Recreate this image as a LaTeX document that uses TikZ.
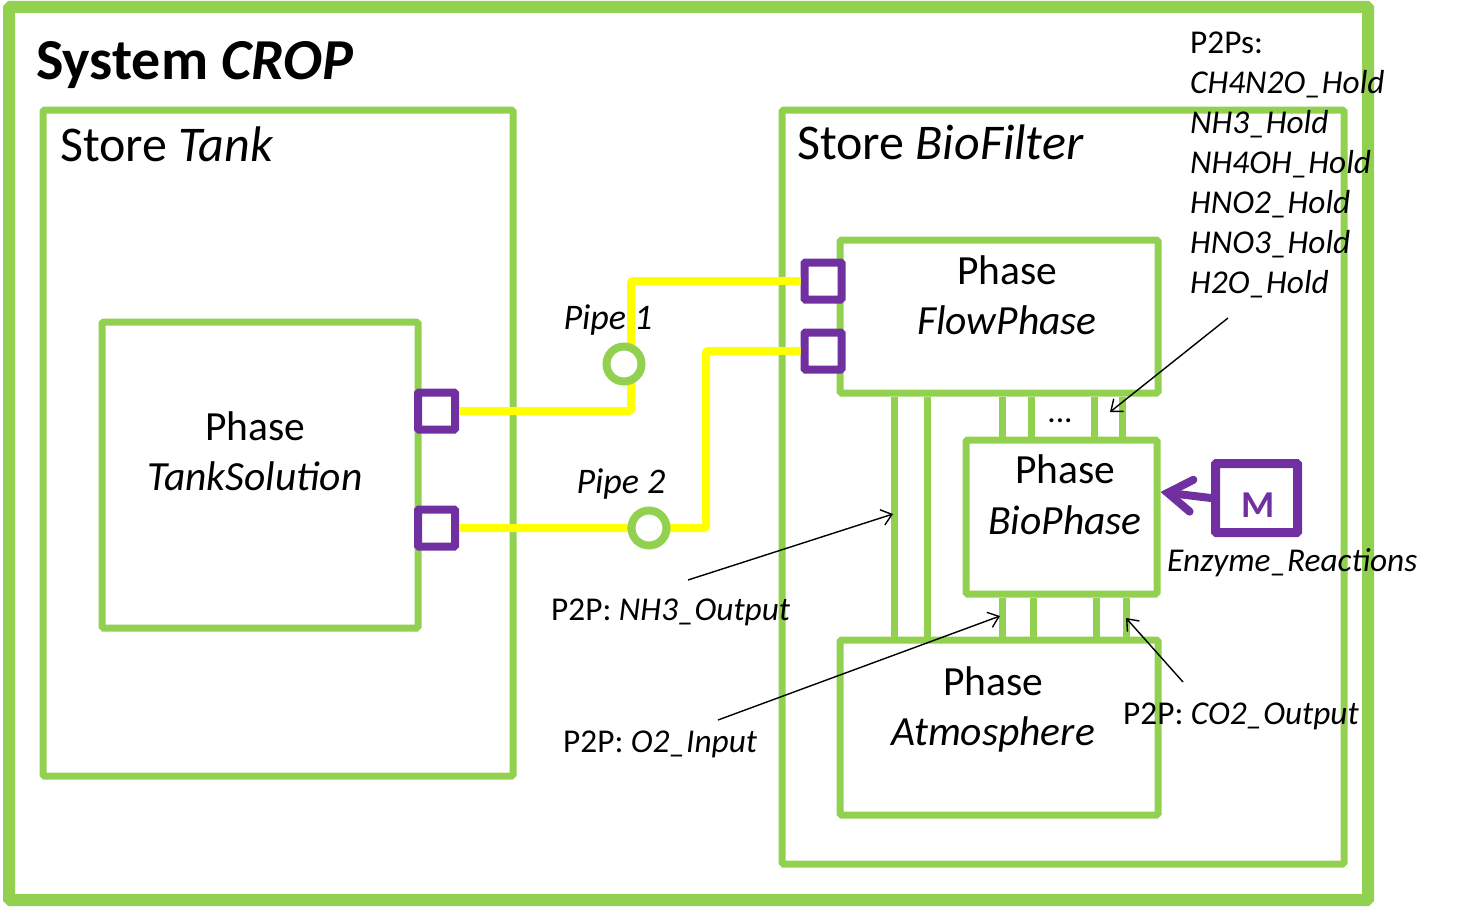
\documentclass[tikz,border=0pt]{standalone}
\usepackage{fontspec}
\setmainfont{Carlito}
\usetikzlibrary{arrows.meta}

\definecolor{boxgreen}{HTML}{92D050}
\definecolor{portpurple}{HTML}{7030A0}
\definecolor{pipeyellow}{HTML}{FFFF00}

\tikzset{
    frame/.style={draw=boxgreen,line width=7pt,rounded corners=1.5pt},
    phasebox/.style={rectangle,draw=boxgreen,fill=white,line width=7pt,rounded corners=1.5pt,inner sep=0pt},
    port/.style={rectangle,draw=portpurple,fill=white,line width=8pt,minimum size=37pt,inner sep=0pt,rounded corners=1pt},
    valve/.style={circle,draw=boxgreen,fill=white,line width=8pt,minimum size=35pt,inner sep=0pt},
    pipe/.style={draw=pipeyellow,line width=8pt,rounded corners=2pt},
    bar/.style={draw=boxgreen,line width=7pt},
    pointer/.style={draw=black,line width=1.4pt,-{Straight Barb[length=10pt,width=16pt]}},
    storetext/.style={font=\fontsize{50}{58}\selectfont,anchor=base west,inner sep=0pt},
    phasetext/.style={font=\fontsize{41.5}{48}\selectfont,anchor=base,inner sep=0pt},
    smalltext/.style={font=\fontsize{33.3}{40}\selectfont,anchor=base west,inner sep=0pt},
    pipetext/.style={font=\itshape\fontsize{36}{40}\selectfont,anchor=base,inner sep=0pt}
}

\begin{document}
\begin{tikzpicture}[x=1pt,y=-1pt]
    \useasboundingbox (0,0) rectangle (1472,907);

    % system and stores
    \draw[frame,line width=12pt] (9,7) rectangle (1368,900);
    \node[font=\bfseries\fontsize{58}{64}\selectfont,anchor=base west,inner sep=0pt] (system) at (36,80) {System \textit{CROP}};
    \draw[frame] (43,110) rectangle (513,776);
    \node[storetext] (tanklbl) at (60,161) {Store \textit{Tank}};
    \draw[frame] (782,110) rectangle (1344,864);
    \node[storetext] (biolbl) at (797,159) {Store \textit{BioFilter}};

    % phases
    \node[phasebox,minimum width=316pt,minimum height=306pt] (tank) at (260,475) {};
    \node[phasebox,minimum width=318pt,minimum height=153pt] (flow) at (999,316.5) {};
    \node[phasebox,minimum width=191pt,minimum height=154pt] (bio) at (1061.5,517) {};
    \node[phasebox,minimum width=318pt,minimum height=175pt] (atmo) at (999,727.5) {};
    \foreach \x in {894,927}
        \draw[bar] (flow.south -| \x,0) -- (atmo.north -| \x,0);
    \foreach \x in {1002,1031,1094,1122}
        \draw[bar] (flow.south -| \x,0) -- (bio.north -| \x,0);
    \foreach \x in {1002,1033,1096,1126}
        \draw[bar] (bio.south -| \x,0) -- (atmo.north -| \x,0);

    \node[phasetext] (tankp) at (255,440) {Phase};
    \node[phasetext] (tankn) at (255,490) {\textit{TankSolution}};
    \node[phasetext] (flowp) at (1007,284) {Phase};
    \node[phasetext] (flown) at (1007,334) {\textit{FlowPhase}};
    \node[phasetext] (biop) at (1065,483) {Phase};
    \node[phasetext] (bion) at (1065,534) {\textit{BioPhase}};
    \node[phasetext] (atmop) at (993,695) {Phase};
    \node[phasetext] (atmon) at (993,745) {\textit{Atmosphere}};
    \node[smalltext,anchor=base] (dots) at (1060,422) {...};

    % pipes
    \node[port] (tank1) at (436.5,411) {};
    \node[port] (tank2) at (436.5,528) {};
    \node[port] (flow1) at (823,281) {};
    \node[port] (flow2) at (823,351) {};
    \draw[pipe] (tank1.east) -| (631,281) -- (flow1.west);
    \draw[pipe] (tank2.east) -| (706,351) -- (flow2.west);
    \node[valve] (valve1) at (624,364) {};
    \node[valve] (valve2) at (649,528) {};
    \node[pipetext] (pipe1) at (608,329) {Pipe 1};
    \node[pipetext] (pipe2) at (621,493) {Pipe 2};

    % reactions
    \node[rectangle,draw=portpurple,line width=9pt,minimum width=82pt,minimum height=69pt,inner sep=0pt,rounded corners=1pt] (mbox) at (1256.5,498) {};
    \node[text=portpurple,font=\bfseries\fontsize{38}{40}\selectfont,inner sep=0pt] (mletter) at (1258,505) {M};
    \draw[draw=portpurple,line width=8pt,line cap=round,-{Straight Barb[length=24pt,width=32pt,line cap=round]}]
        (mbox.west) -- ([yshift=25pt]bio.east);
    \node[smalltext] (enzyme) at (1167,571) {\textit{Enzyme\_Reactions}};

    % P2P labels
    \node[smalltext] (list) at (1190,53) {P2Ps:};
    \foreach \name [count=\i] in {CH4N2O,NH3,NH4OH,HNO2,HNO3,H2O}
        \node[smalltext] (hold\i) at (1190,53+40*\i) {\textit{\name\_Hold}};
    \node[smalltext] (nh3lbl) at (551,620) {P2P: \textit{NH3\_Output}};
    \node[smalltext] (o2lbl) at (563,752) {P2P: \textit{O2\_Input}};
    \node[smalltext] (co2lbl) at (1123,724) {P2P: \textit{CO2\_Output}};

    \coordinate (holdtail) at (1228,318);
    \coordinate (holdtip) at (1110,412);
    \coordinate (nh3tail) at (688,580);
    \coordinate (nh3tip) at (893,514);
    \coordinate (o2tail) at (718,720);
    \coordinate (o2tip) at (1000,616);
    \coordinate (co2tail) at (1183,682);
    \coordinate (co2tip) at (1126,618);
    \draw[pointer] (holdtail) -- (holdtip);
    \draw[pointer] (nh3tail) -- (nh3tip);
    \draw[pointer] (o2tail) -- (o2tip);
    \draw[pointer] (co2tail) -- (co2tip);
\end{tikzpicture}
\end{document}
